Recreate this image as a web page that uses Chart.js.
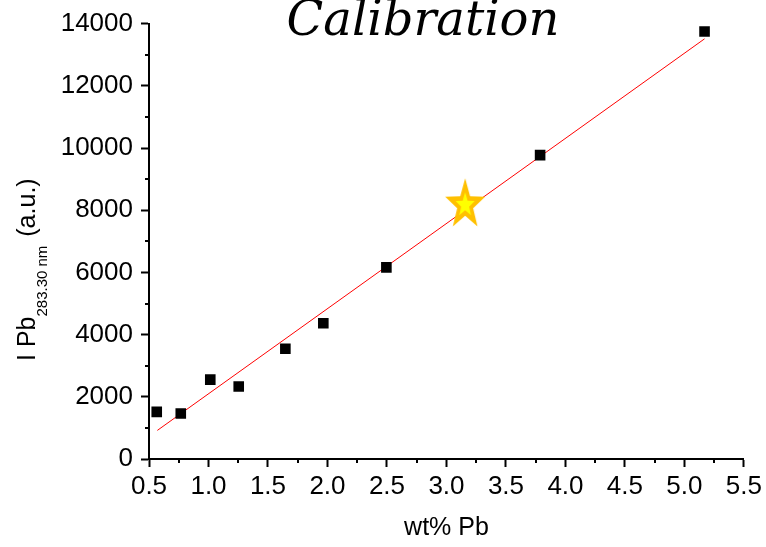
<!DOCTYPE html>
<html lang="en">
<head>
    <meta charset="UTF-8">
    <title>Calibration</title>
    <script src="https://cdn.jsdelivr.net/npm/chart.js"></script>
    <style>
        html, body { margin: 0; padding: 0; background: #fff; }
        #wrap { width: 766px; height: 547px; }
    </style>
</head>
<body>
    <div id="wrap"><canvas id="grafico"></canvas></div>

    <script>
        // Standards: concentration (wt% Pb) and line intensity (a.u.)
        const standardsX = [0.565, 0.767, 1.015, 1.254, 1.646, 1.965, 2.495, 3.787, 5.169];
        const standardsY = [1515, 1464, 2553, 2329, 3546, 4367, 6161, 9771, 13744];

        // Linear fit, end points
        const fitX = [0.570, 5.169];
        const fitY = [919, 13510];

        // Unknown sample (star)
        const sampleX = [3.157];
        const sampleY = [8169];

        const xMin = 0.5, xMax = 5.5, xStep = 0.5;
        const yMin = 0, yMax = 14000, yStep = 2000;

        const pontos = (xs, ys) => xs.map((x, i) => ({ x: x, y: ys[i] }));

        // Star marker drawn on its own canvas, used as pointStyle
        function starPath(c, cx, cy, R, r) {
            c.beginPath();
            for (let i = 0; i < 10; i++) {
                const ang = -Math.PI / 2 + i * Math.PI / 5;
                const rad = i % 2 === 0 ? R : r;
                c.lineTo(cx + rad * Math.cos(ang), cy + rad * Math.sin(ang));
            }
            c.closePath();
        }
        const starImg = document.createElement('canvas');
        starImg.width = 46;
        starImg.height = 60;
        const sc = starImg.getContext('2d');
        sc.translate(23, 30);
        sc.scale(1, 1.27);
        sc.fillStyle = '#FFC000';
        starPath(sc, 0, 0, 21, 8.4);
        sc.fill();
        sc.fillStyle = '#FFFF00';
        starPath(sc, 0, 0, 10, 4.2);
        sc.fill();

        // Minor ticks, title and y title with subscript
        const extras = {
            id: 'extras',
            afterDraw(chart) {
                const ctx = chart.ctx;
                const xs = chart.scales.x, ys = chart.scales.y;
                const area = chart.chartArea;
                ctx.save();
                ctx.strokeStyle = '#000';
                ctx.lineWidth = 2;
                ctx.beginPath();
                for (let v = xMin + xStep / 2; v < xMax; v += xStep) {
                    const px = Math.round(xs.getPixelForValue(v));
                    ctx.moveTo(px, area.bottom);
                    ctx.lineTo(px, area.bottom + 4);
                }
                for (let v = yMin + yStep / 2; v < yMax; v += yStep) {
                    const py = Math.round(ys.getPixelForValue(v));
                    ctx.moveTo(area.left, py);
                    ctx.lineTo(area.left - 4, py);
                }
                ctx.stroke();

                // title
                ctx.fillStyle = '#000';
                ctx.font = 'italic 48px "DejaVu Serif"';
                ctx.textAlign = 'center';
                ctx.textBaseline = 'alphabetic';
                ctx.fillText('Calibration', 423, 35);

                // y title: I Pb_283.30 nm (a.u.)
                ctx.translate(35, 361);
                ctx.rotate(-Math.PI / 2);
                ctx.textAlign = 'left';
                ctx.font = '25px "Liberation Sans"';
                ctx.fillText('I Pb', 0, 0);
                let w = ctx.measureText('I Pb').width;
                ctx.font = '15px "Liberation Sans"';
                ctx.fillText('283.30 nm', w, 12);
                w += ctx.measureText('283.30 nm').width;
                ctx.font = '25px "Liberation Sans"';
                ctx.fillText(' (a.u.)', w + 2, 0);
                ctx.restore();
            }
        };

        const ctx = document.getElementById('grafico').getContext('2d');
        new Chart(ctx, {
            type: 'scatter',
            data: {
                datasets: [{
                    label: 'Sample',
                    data: pontos(sampleX, sampleY),
                    pointStyle: starImg,
                    order: 0
                }, {
                    label: 'Standards',
                    data: pontos(standardsX, standardsY),
                    pointStyle: 'rect',
                    pointRadius: 7.5,
                    backgroundColor: '#000',
                    borderColor: '#000',
                    borderWidth: 0,
                    order: 1
                }, {
                    type: 'line',
                    label: 'Fit',
                    data: pontos(fitX, fitY),
                    borderColor: '#FF0000',
                    borderWidth: 1,
                    pointRadius: 0,
                    fill: false,
                    order: 2
                }]
            },
            options: {
                responsive: true,
                maintainAspectRatio: false,
                animation: false,
                layout: { padding: { left: 0, right: 22, top: 22, bottom: 0 } },
                plugins: {
                    legend: { display: false },
                    tooltip: { enabled: false }
                },
                scales: {
                    x: {
                        type: 'linear',
                        min: xMin,
                        max: xMax,
                        afterFit: (s) => { s.height = 88; },
                        ticks: {
                            stepSize: xStep,
                            color: '#000',
                            padding: 4,
                            font: { family: 'Liberation Sans', size: 26 },
                            callback: (v) => v.toFixed(1)
                        },
                        grid: { drawOnChartArea: false, drawTicks: true, tickLength: 8, tickWidth: 2, tickColor: '#000' },
                        border: { display: true, color: '#000', width: 2 },
                        title: { display: true, text: 'wt% Pb', color: '#000', font: { family: 'Liberation Sans', size: 25 } }
                    },
                    y: {
                        type: 'linear',
                        min: yMin,
                        max: yMax,
                        afterFit: (s) => { s.width = 149; },
                        ticks: {
                            stepSize: yStep,
                            color: '#000',
                            padding: 8,
                            font: { family: 'Liberation Sans', size: 26 },
                            callback: (v) => String(v)
                        },
                        grid: { drawOnChartArea: false, drawTicks: true, tickLength: 8, tickWidth: 2, tickColor: '#000' },
                        border: { display: true, color: '#000', width: 2 }
                    }
                }
            },
            plugins: [extras]
        });
    </script>
</body>
</html>
